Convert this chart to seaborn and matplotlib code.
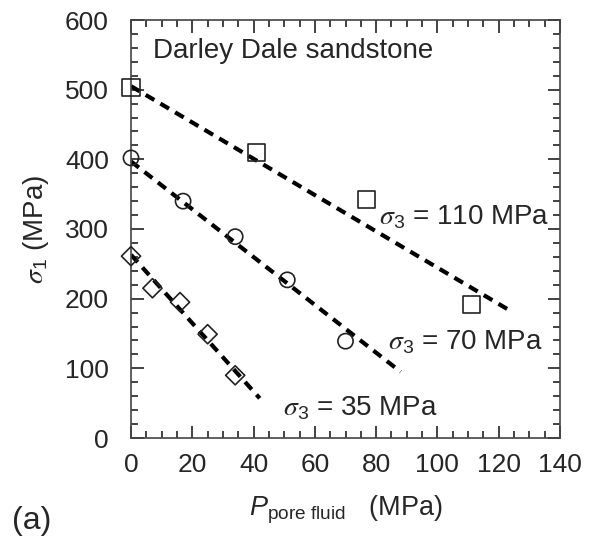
import matplotlib
matplotlib.use("Agg")
import matplotlib.pyplot as plt
import seaborn as sns
import pandas as pd
from matplotlib.ticker import MultipleLocator

sns.set_theme(style="ticks")
plt.rcParams['font.family'] = ['Liberation Sans', 'DejaVu Sans']
plt.rcParams['mathtext.fontset'] = 'custom'
plt.rcParams['mathtext.rm'] = 'Liberation Sans'
plt.rcParams['mathtext.it'] = 'Liberation Sans:italic'
plt.rcParams['mathtext.cal'] = 'STIXGeneral:italic'

# data
sq_p = [0, 41, 77, 111]
sq_s1 = [503, 410, 343, 191]
ci_p = [0, 17, 34, 51, 70]
ci_s1 = [402, 340, 289, 227, 139]
di_p = [0, 7, 16, 25, 34]
di_s1 = [261, 215, 195, 149, 90]

# fit lines (endpoints)
fit110_p = [0, 124]
fit110_s1 = [505, 182]
fit70_p = [0, 88]
fit70_s1 = [397, 95]
fit35_p = [0, 42]
fit35_s1 = [263, 57]

labels = ["$\\mathcal{\\sigma}_3$ = 110 MPa", "$\\mathcal{\\sigma}_3$ = 70 MPa", "$\\mathcal{\\sigma}_3$ = 35 MPa"]

pts = pd.DataFrame({
    "p": sq_p + ci_p + di_p,
    "s1": sq_s1 + ci_s1 + di_s1,
    "grp": ["110"] * len(sq_p) + ["70"] * len(ci_p) + ["35"] * len(di_p),
})
fits = pd.DataFrame({
    "p": fit110_p + fit70_p + fit35_p,
    "s1": fit110_s1 + fit70_s1 + fit35_s1,
    "grp": ["110"] * 2 + ["70"] * 2 + ["35"] * 2,
})

fig = plt.figure(figsize=(5.9, 5.37), dpi=100)
ax = fig.add_axes([131 / 590, 1 - 438 / 537, 429 / 590, 418 / 537])

for g in ["110", "70", "35"]:
    d = fits[fits.grp == g]
    sns.lineplot(data=d, x="p", y="s1", ax=ax, color="black", lw=3.0,
                 linestyle=(0, (2.4, 1.7)), legend=False, zorder=2)

mk = {"110": "s", "70": "o", "35": "D"}
sizes = {"110": 150, "70": 120, "35": 95}
for g in ["110", "70", "35"]:
    d = pts[pts.grp == g]
    sns.scatterplot(data=d, x="p", y="s1", ax=ax, marker=mk[g], s=sizes[g],
                    facecolor="none", edgecolor="#222222", linewidth=1.2,
                    legend=False, zorder=3, clip_on=False)

ax.set_xlim(0, 140)
ax.set_ylim(0, 600)
ax.xaxis.set_major_locator(MultipleLocator(20))
ax.xaxis.set_minor_locator(MultipleLocator(5))
ax.yaxis.set_major_locator(MultipleLocator(100))
ax.yaxis.set_minor_locator(MultipleLocator(20))
ax.tick_params(which="both", direction="in", top=True, right=True, labelsize=19,
               color="#222222", width=1.2)
ax.tick_params(which="major", length=9)
ax.tick_params(which="minor", length=5)
for sp in ax.spines.values():
    sp.set_color("#444444")
    sp.set_linewidth(1.2)
ax.tick_params(axis="x", pad=11)
ax.tick_params(axis="y", pad=16)

ax.set_xlabel("$P_{\\mathrm{pore\\ fluid}}\\ \\ $ (MPa)", fontsize=19.5, labelpad=12)
ax.set_ylabel("$\\mathcal{\\sigma}_1$ (MPa)", fontsize=20, labelpad=10)

ax.text(7.2, 545, "Darley Dale sandstone", fontsize=20, va="baseline", ha="left")
ax.text(81, 317, labels[0], fontsize=20, va="center", ha="left")
ax.text(84, 138, labels[1], fontsize=20, va="center", ha="left")
ax.text(49.5, 43, labels[2], fontsize=20, va="center", ha="left")

fig.text(12 / 590, 1 - 521 / 537, "(a)", fontsize=23, va="center", ha="left")

fig.savefig("out.png", dpi=100)
